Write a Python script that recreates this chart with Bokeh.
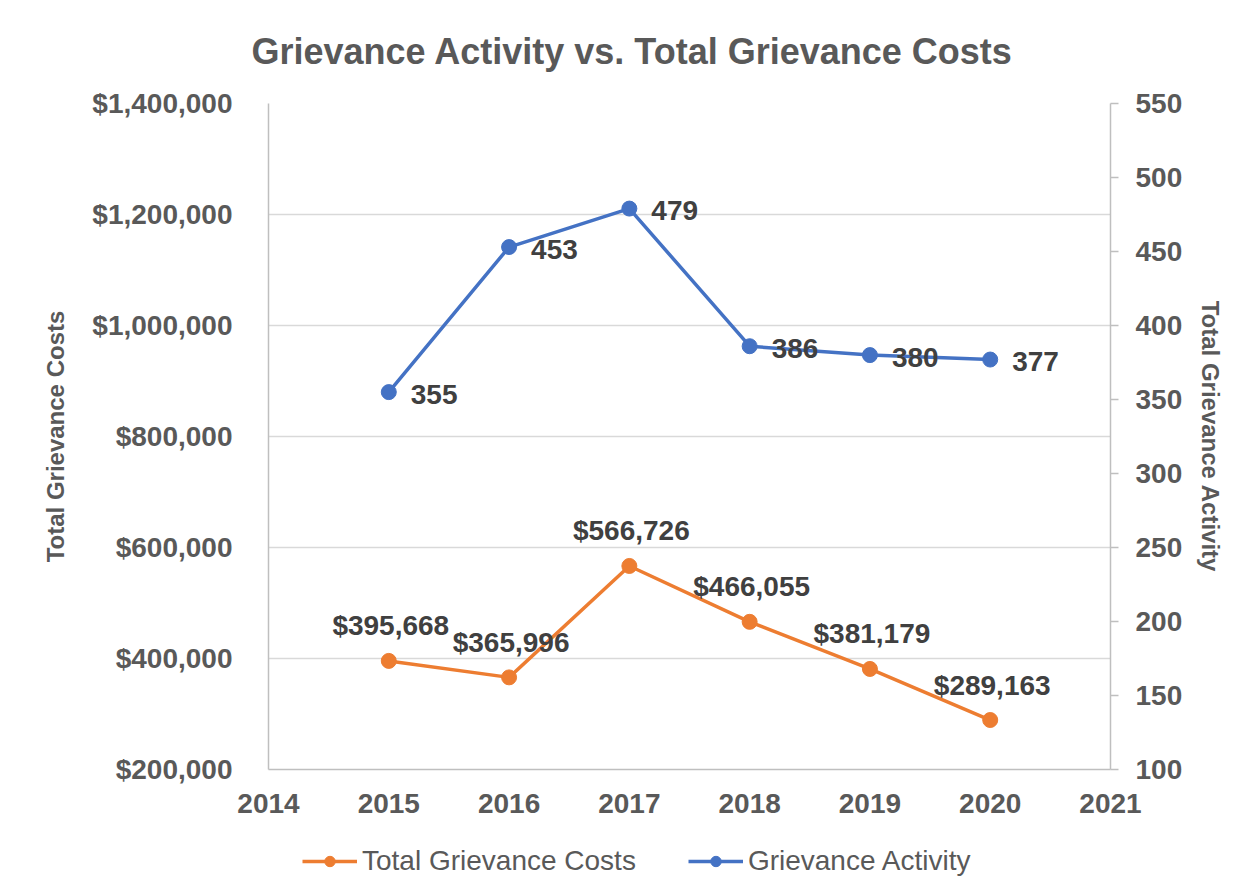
from bokeh.plotting import figure
from bokeh.layouts import column
from bokeh.models import Range1d, LinearAxis, FixedTicker, NumeralTickFormatter, Legend, LegendItem
from bokeh.core.properties import value
from bokeh.embed import file_html
from bokeh.resources import INLINE

# ---- data ----
years = [2015, 2016, 2017, 2018, 2019, 2020]
costs = [395668, 365996, 566726, 466055, 381179, 289163]
activity = [355, 453, 479, 386, 380, 377]
x_ticks = [2014, 2015, 2016, 2017, 2018, 2019, 2020, 2021]
cost_ticks = [200000, 400000, 600000, 800000, 1000000, 1200000, 1400000]
act_ticks = [100, 150, 200, 250, 300, 350, 400, 450, 500, 550]
series_names = ["Total Grievance Costs", "Grievance Activity"]

cost_labels = ["${:,}".format(v) for v in costs]
act_labels = [str(v) for v in activity]

ORANGE = "#ED7D31"
BLUE = "#4472C4"
GREY = "#595959"
DARK = "#404040"
FONT = "Liberation Sans"

p = figure(width=1250, height=830, output_backend="svg", toolbar_location=None,
           x_range=Range1d(2014, 2021), y_range=Range1d(200000, 1400000),
           min_border_left=268, min_border_right=140, min_border_top=103, min_border_bottom=61)
p.extra_y_ranges = {"act": Range1d(100, 550)}
p.outline_line_color = None
p.background_fill_color = "white"
p.border_fill_color = "white"

# title
p.title.text = "Grievance Activity vs. Total Grievance Costs"
p.title.text_font = FONT
p.title.text_font_style = "bold"
p.title.text_font_size = "36px"
p.title.text_color = GREY
p.title.align = "left"
p.title.vertical_align = "top"
p.title.offset = -17
p.title.standoff = 59

# grids
p.xgrid.visible = False
p.ygrid.grid_line_color = "#D9D9D9"
p.ygrid.grid_line_width = 1.5
p.ygrid.ticker = FixedTicker(ticks=cost_ticks)

# x axis
xa = p.xaxis[0]
xa.ticker = FixedTicker(ticks=x_ticks)
xa.major_label_overrides = {t: str(t) for t in x_ticks}
xa.major_tick_out = 0
xa.major_tick_in = 0
xa.minor_tick_out = 0
xa.minor_tick_in = 0
xa.axis_line_color = "#BFBFBF"
xa.axis_line_width = 1.5
xa.major_label_text_font = FONT
xa.major_label_text_font_style = "bold"
xa.major_label_text_font_size = "28px"
xa.major_label_text_color = GREY
xa.major_label_standoff = 24

# left y axis
ya = p.yaxis[0]
ya.ticker = FixedTicker(ticks=cost_ticks)
ya.formatter = NumeralTickFormatter(format="$0,0")
ya.major_tick_out = 0
ya.major_tick_in = 0
ya.minor_tick_out = 0
ya.minor_tick_in = 0
ya.axis_line_color = "#BFBFBF"
ya.axis_line_width = 1.5
ya.major_label_text_font = FONT
ya.major_label_text_font_style = "bold"
ya.major_label_text_font_size = "28px"
ya.major_label_text_color = GREY
ya.major_label_standoff = 36
ya.axis_label = "Total Grievance Costs"
ya.axis_label_text_font = FONT
ya.axis_label_text_font_style = "bold"
ya.axis_label_text_font_size = "24px"
ya.axis_label_text_color = GREY
ya.axis_label_standoff = 20

# right y axis
ra = LinearAxis(y_range_name="act", ticker=FixedTicker(ticks=act_ticks))
ra.major_tick_out = 8
ra.major_tick_in = 0
ra.minor_tick_out = 0
ra.minor_tick_in = 0
ra.major_tick_line_color = "#BFBFBF"
ra.major_tick_line_width = 1.5
ra.axis_line_color = "#BFBFBF"
ra.axis_line_width = 1.5
ra.major_label_text_font = FONT
ra.major_label_text_font_style = "bold"
ra.major_label_text_font_size = "28px"
ra.major_label_text_color = GREY
ra.major_label_standoff = 17
ra.axis_label = "Total Grievance Activity"
ra.axis_label_text_font = FONT
ra.axis_label_text_font_style = "bold"
ra.axis_label_text_font_size = "24px"
ra.axis_label_text_color = GREY
ra.axis_label_standoff = 12
p.add_layout(ra, "right")

# series
p.line(years, costs, line_color=ORANGE, line_width=3.5)
p.scatter(years, costs, size=15, fill_color=ORANGE, line_color=ORANGE)
p.line(years, activity, line_color=BLUE, line_width=3.5, y_range_name="act")
p.scatter(years, activity, size=15, fill_color=BLUE, line_color=BLUE, y_range_name="act")

# data labels
p.text(years, costs, text=cost_labels, text_font=value(FONT), text_font_style="bold",
       text_font_size="28px", text_color=DARK, text_align="center", text_baseline="middle",
       x_offset=2, y_offset=-35)
p.text(years, activity, text=act_labels, text_font=value(FONT), text_font_style="bold",
       text_font_size="28px", text_color=DARK, text_align="left", text_baseline="middle",
       x_offset=22, y_offset=2, y_range_name="act")

# ---- legend strip (separate figure below, same series styles) ----
lg = figure(width=1250, height=60, output_backend="svg", toolbar_location=None,
            x_range=Range1d(0, 1), y_range=Range1d(0, 1),
            x_axis_location=None, y_axis_location=None,
            min_border_left=0, min_border_right=0, min_border_top=0, min_border_bottom=0)
lg.grid.visible = False
lg.outline_line_color = None
lg.border_fill_color = "white"
lg.extra_y_ranges = {"act": Range1d(0, 1)}
c_line = lg.line(years, costs, line_color=ORANGE, line_width=3.5)
c_pt = lg.scatter(years, costs, size=12, fill_color=ORANGE, line_color=ORANGE)
a_line = lg.line(years, activity, line_color=BLUE, line_width=3.5, y_range_name="act")
a_pt = lg.scatter(years, activity, size=12, fill_color=BLUE, line_color=BLUE, y_range_name="act")

legend = Legend(items=[LegendItem(label=series_names[0], renderers=[c_line, c_pt]),
                       LegendItem(label=series_names[1], renderers=[a_line, a_pt])],
                orientation="horizontal", location=(34, 13))
legend.label_text_font = FONT
legend.label_text_font_size = "28px"
legend.label_text_color = GREY
legend.glyph_width = 55
legend.glyph_height = 26
legend.label_height = 26
legend.label_standoff = 5
legend.spacing = 52
legend.padding = 0
legend.margin = 0
legend.border_line_color = None
legend.background_fill_alpha = 0
lg.add_layout(legend, "center")

layout = column(p, lg, spacing=0)
open("out.html", "w").write(file_html(layout, INLINE))
